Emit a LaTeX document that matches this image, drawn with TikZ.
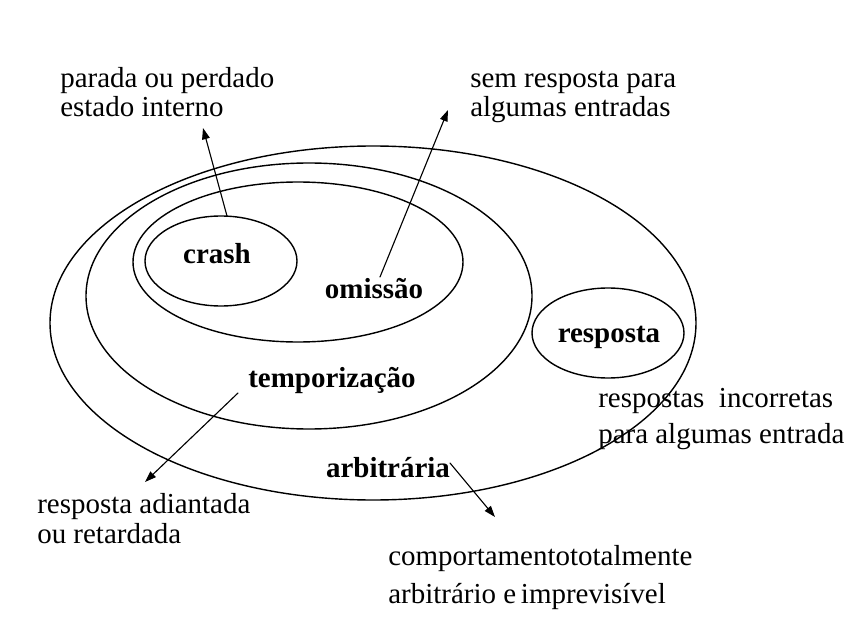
\documentclass[tikz,border=0pt]{standalone}
\usepackage{fontspec}
\setmainfont{Liberation Serif}
\usetikzlibrary{arrows.meta}

\begin{document}
\begin{tikzpicture}[line cap=round,line join=round,>={Triangle[length=8pt,width=5.5pt]},x=0.025cm,y=0.025cm,
  every node/.style={inner sep=0pt},
  setlabel/.style={anchor=base,font=\fontsize{20.6}{25}\selectfont\bfseries},
  remark/.style={anchor=base west,align=left,font=\fontsize{20.6}{21.3}\selectfont}]
\useasboundingbox (0,0) rectangle (850,-637);
% conjuntos de falhas
\draw[line width=1pt] (373,-323) ellipse [x radius=323,y radius=177];
\draw[line width=1pt] (309,-296) ellipse [x radius=223,y radius=133];
\draw[line width=1pt] (298,-262) ellipse [x radius=165,y radius=80];
\draw[line width=1pt] (221,-261) ellipse [x radius=76,y radius=45];
\draw[line width=1pt] (608,-333) ellipse [x radius=76,y radius=45];
% nomes
\node[setlabel] (crash) at (217,-263) {crash};
\node[setlabel] (omissao) at (374,-298) {omissão};
\node[setlabel] (temporiz) at (332,-387) {temporização};
\node[setlabel] (arbitr) at (388,-477) {arbitrária};
\node[setlabel] (resp) at (609,-342) {resposta};
% descricoes (ancora na ultima linha)
\node[remark] (crashtxt) at (60,-117) {parada ou perdado\\estado interno};
\node[remark] (omistxt) at (470,-117) {sem resposta para\\algumas entradas};
\node[remark] (resptxt) at (598,-443) {respostas\ \ incorretas\\[4.3pt]para algumas entrada};
\node[remark] (temptxt) at (37,-543) {resposta adiantada\\ou retardada};
\node[remark] (arbtxt) at (388,-603) {comportamentototalmente\\[5.7pt]arbitrário e\,imprevisível};
% setas
\coordinate (crashfrom) at (227,-216);
\coordinate (crashto) at (203,-128);
\coordinate (omisfrom) at (380,-277);
\coordinate (omisto) at (448,-110);
\coordinate (tempfrom) at (238,-393);
\coordinate (tempto) at (145,-482);
\coordinate (arbfrom) at (450,-463);
\coordinate (arbto) at (495,-517);
\draw[line width=0.8pt,->] (crashfrom) -- (crashto);
\draw[line width=0.8pt,->] (omisfrom) -- (omisto);
\draw[line width=0.8pt,->] (tempfrom) -- (tempto);
\draw[line width=0.8pt,->] (arbfrom) -- (arbto);
\end{tikzpicture}
\end{document}
